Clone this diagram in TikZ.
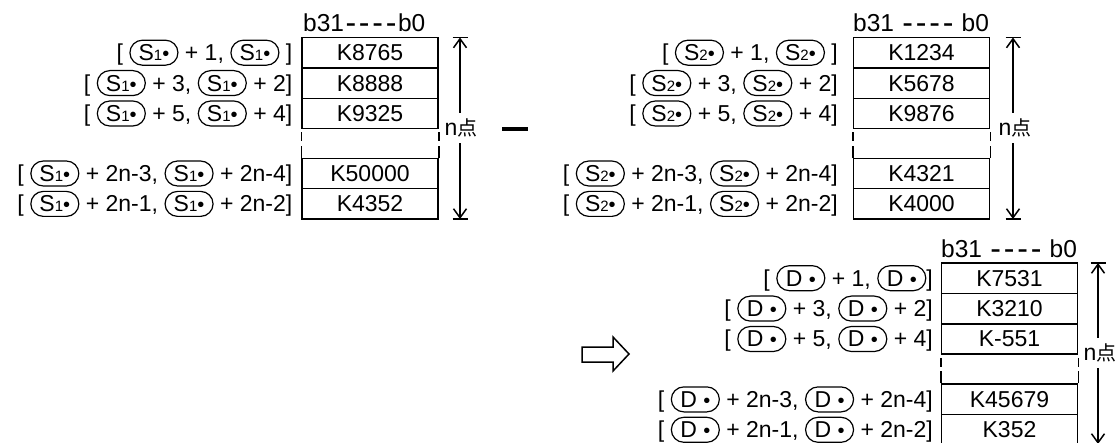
\documentclass[tikz,border=0pt]{standalone}
\usepackage{fontspec}
\setmainfont{Liberation Sans}
\newfontfamily\cjk{Noto Sans CJK JP}
\usetikzlibrary{arrows.meta,shapes.misc}
\tikzset{
  txt/.style={font=\fontsize{23}{27}\selectfont, inner sep=0pt},
  lab/.style={txt, anchor=east},
  cell/.style={draw, line width=1.5pt, minimum width=136pt, minimum height=30.4pt, inner sep=0pt, font=\fontsize{23}{27}\selectfont},
  hdr/.style={font=\fontsize{24.5}{28}\selectfont, inner sep=0pt, anchor=base west},
  npt/.style={font=\fontsize{23}{27}\selectfont, inner sep=0pt, minimum height=30pt},
  varr/.style={line width=1.5pt, -{Straight Barb[length=9pt,width=13pt]}},
  endbar/.style={line width=1.5pt},
  sidedash/.style={line width=1.5pt},
  stadium/.style={draw, rounded rectangle, line width=1.2pt, minimum width=48pt, minimum height=25pt, inner sep=0pt}
}
\newcommand{\sbul}{{\fontsize{20}{20}\selectfont •}}
\newcommand{\ssub}[1]{{\fontsize{15}{15}\selectfont #1}}
\newcommand{\stad}[1]{\tikz[baseline=(st.base)]\node[stadium](st){#1};}
\newcommand{\SA}{\stad{S\ssub{1}\sbul}}
\newcommand{\SB}{\stad{S\ssub{2}\sbul}}
\newcommand{\DD}{\stad{D\ \sbul}}
\newcommand{\dd}{\makebox[13.5pt]{\raisebox{-1.5pt}{\fontsize{32}{32}\selectfont -}}}
\newcommand{\npt}{n{\cjk\fontsize{20}{20}\selectfont 点}}
\begin{document}
\begin{tikzpicture}[x=1pt,y=-1pt]
\useasboundingbox (0,0) rectangle (1118,443);

% ---------- left block (S1) ----------
\node[hdr] (LH) at (303,32) {b31\dd\dd\dd\dd b0};
\node[cell] (L1) at (370,52.7) {K8765};
\node[cell] (L2) at (370,83.1) {K8888};
\node[cell] (L3) at (370,113.5) {K9325};
\node[cell] (L4) at (370,173.5) {K50000};
\node[cell] (L5) at (370,203.9) {K4352};
\draw[sidedash] (L3.south west) ++(0,3) -- ++(0,9);
\draw[sidedash] (L4.north west) -- ++(0,-12);
\draw[sidedash] (L3.south east) ++(0,3) -- ++(0,9);
\draw[sidedash] (L4.north east) -- ++(0,-12);
\node[lab] (LA1) at (292.5,52.7) {[ \SA\ + 1, \SA\ ]};
\node[lab] (LA2) at (292.5,83.1) {[ \SA\ + 3, \SA\ + 2]};
\node[lab] (LA3) at (292.5,113.5) {[ \SA\ + 5, \SA\ + 4]};
\node[lab] (LA4) at (292.5,173.5) {[ \SA\ + 2n-3, \SA\ + 2n-4]};
\node[lab] (LA5) at (292.5,203.9) {[ \SA\ + 2n-1, \SA\ + 2n-2]};
\coordinate (LT) at (460,37.5);
\coordinate (LB) at (460,219);
\node[npt] (LN) at (461,128) {\npt};
\draw[varr] (LN.north -| LT) -- (LT);
\draw[varr] (LN.south -| LB) -- (LB);
\draw[endbar] ([xshift=-7.5pt]LT) -- ([xshift=7.5pt]LT);
\draw[endbar] ([xshift=-7.5pt]LB) -- ([xshift=7.5pt]LB);

% minus
\draw[line width=4pt] (502,129) -- (528,129);

% ---------- middle block (S2) ----------
\node[hdr] (MH) at (853,32) {b31\ \dd\dd\dd\dd\ b0};
\node[cell] (M1) at (921.5,52.7) {K1234};
\node[cell] (M2) at (921.5,83.1) {K5678};
\node[cell] (M3) at (921.5,113.5) {K9876};
\node[cell] (M4) at (921.5,173.5) {K4321};
\node[cell] (M5) at (921.5,203.9) {K4000};
\draw[sidedash] (M3.south west) ++(0,3) -- ++(0,9);
\draw[sidedash] (M4.north west) -- ++(0,-12);
\draw[sidedash] (M3.south east) ++(0,3) -- ++(0,9);
\draw[sidedash] (M4.north east) -- ++(0,-12);
\node[lab] (MA1) at (838,52.7) {[ \SB\ + 1, \SB\ ]};
\node[lab] (MA2) at (838,83.1) {[ \SB\ + 3, \SB\ + 2]};
\node[lab] (MA3) at (838,113.5) {[ \SB\ + 5, \SB\ + 4]};
\node[lab] (MA4) at (838,173.5) {[ \SB\ + 2n-3, \SB\ + 2n-4]};
\node[lab] (MA5) at (838,203.9) {[ \SB\ + 2n-1, \SB\ + 2n-2]};
\coordinate (MT) at (1013,37.5);
\coordinate (MB) at (1013,219);
\node[npt] (MN) at (1015,128) {\npt};
\draw[varr] (MN.north -| MT) -- (MT);
\draw[varr] (MN.south -| MB) -- (MB);
\draw[endbar] ([xshift=-7.5pt]MT) -- ([xshift=7.5pt]MT);
\draw[endbar] ([xshift=-7.5pt]MB) -- ([xshift=7.5pt]MB);

% hollow arrow
\draw[line width=1.5pt] (582,347) -- (613,347) -- (613,337) -- (629,354) -- (613,371) -- (613,362) -- (582,362) -- cycle;

% ---------- bottom block (D) ----------
\node[hdr] (BH) at (941,258) {b31\ \dd\dd\dd\dd\ b0};
\node[cell] (B1) at (1009.5,278.2) {K7531};
\node[cell] (B2) at (1009.5,308.6) {K3210};
\node[cell] (B3) at (1009.5,339.0) {K-551};
\node[cell] (B4) at (1009.5,399.4) {K45679};
\node[cell] (B5) at (1009.5,429.8) {K352};
\draw[sidedash] (B3.south west) ++(0,3) -- ++(0,9);
\draw[sidedash] (B4.north west) -- ++(0,-12);
\draw[sidedash] (B3.south east) ++(0,3) -- ++(0,9);
\draw[sidedash] (B4.north east) -- ++(0,-12);
\node[lab] (BA1) at (933,278.2) {[ \DD\ + 1, \DD]};
\node[lab] (BA2) at (933,308.6) {[ \DD\ + 3, \DD\ + 2]};
\node[lab] (BA3) at (933,339.0) {[ \DD\ + 5, \DD\ + 4]};
\node[lab] (BA4) at (933,399.4) {[ \DD\ + 2n-3, \DD\ + 2n-4]};
\node[lab] (BA5) at (933,429.8) {[ \DD\ + 2n-1, \DD\ + 2n-2]};
\coordinate (BT) at (1098,263);
\coordinate (BB) at (1098,444);
\node[npt] (BN) at (1100,353) {\npt};
\draw[varr] (BN.north -| BT) -- (BT);
\draw[varr] (BN.south -| BB) -- (BB);
\draw[endbar] ([xshift=-7.5pt]BT) -- ([xshift=7.5pt]BT);
\draw[endbar] ([xshift=-7.5pt]BB) -- ([xshift=7.5pt]BB);
\end{tikzpicture}
\end{document}
